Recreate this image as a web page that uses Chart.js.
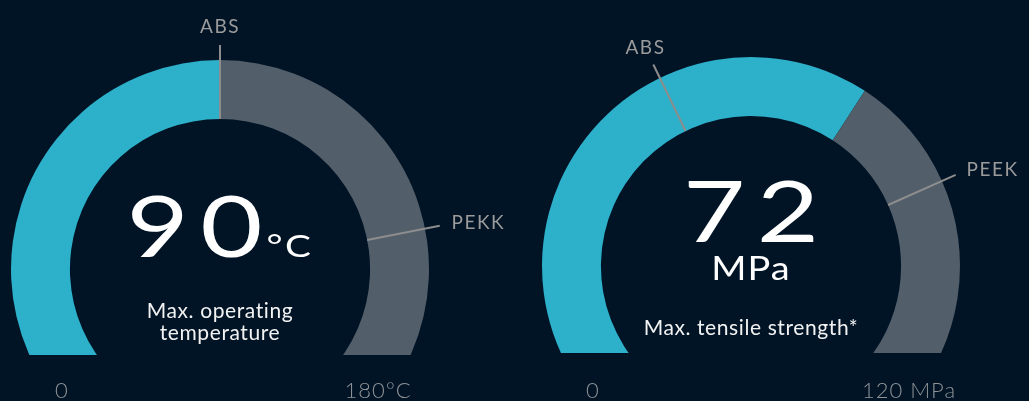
<!DOCTYPE html>
<html>
<head>
<meta charset="utf-8">
<script src="https://cdn.jsdelivr.net/npm/chart.js@4"></script>
<style>
  body { margin: 0; background: #011426; width: 1029px; height: 401px; overflow: hidden; }
  canvas { position: absolute; top: 0; }
  #gauge1 { left: 0; }
  #gauge2 { left: 515px; }
</style>
</head>
<body>
<canvas id="gauge1" width="515" height="401"></canvas>
<canvas id="gauge2" width="514" height="401"></canvas>
<script>
// gauge data
const gaugeValues = [90, 72];
const gaugeMax = [180, 120];
const gaugeUnits = ['°C', 'MPa'];
const gaugeCaptions = [['Max. operating', 'temperature'], ['Max. tensile strength*']];
const minLabels = ['0', '0'];
const maxLabels = ['180°C', '120 MPa'];
const markerNames = [['ABS', 'PEKK'], ['ABS', 'PEEK']];
const markerValues = [[90, 133], [50.6, 84]];

const cyan = '#2db0ca';
const slate = '#525e6a';

const gaugeText = {
    id: 'gaugeText',
    afterDraw(chart, args, opts) {
        const i = opts.index;
        const ctx = chart.ctx;
        const meta = chart.getDatasetMeta(0);
        const first = meta.data[0];
        const last = meta.data[meta.data.length - 1];
        const cx = first.x, cy = first.y;
        const rIn = first.innerRadius, rOut = first.outerRadius;
        const start = first.startAngle, end = last.endAngle;
        const angleFor = v => start + (v / gaugeMax[i]) * (end - start);

        ctx.save();
        // marker lines + names
        markerNames[i].forEach((name, k) => {
            const a = angleFor(markerValues[i][k]);
            const dx = Math.cos(a), dy = Math.sin(a);
            ctx.strokeStyle = '#8d8d8d';
            ctx.lineWidth = 2;
            ctx.beginPath();
            ctx.moveTo(cx + dx * rIn, cy + dy * rIn);
            ctx.lineTo(cx + dx * (rOut + 15), cy + dy * (rOut + 15));
            ctx.stroke();

            ctx.fillStyle = '#9b9b9b';
            ctx.font = '400 19px Lato';
            ctx.letterSpacing = '1.5px';
            ctx.textBaseline = 'middle';
            if (Math.abs(dx) > 0.7) {
                ctx.textAlign = dx > 0 ? 'left' : 'right';
                ctx.fillText(name, cx + dx * (rOut + 27), cy + dy * (rOut + 27));
            } else {
                ctx.textAlign = 'center';
                ctx.fillText(name, cx + dx * (rOut + 33), cy + dy * (rOut + 33));
            }
        });
        ctx.letterSpacing = '0px';

        // big value
        const sx = 1.25;
        ctx.fillStyle = '#ffffff';
        ctx.textBaseline = 'alphabetic';
        ctx.textAlign = 'left';
        ctx.font = '400 86px Lato';
        ctx.letterSpacing = '9px';
        const valText = String(gaugeValues[i]);
        const vw = ctx.measureText(valText).width - 9;
        if (opts.unitInline) {
            ctx.font = '400 31px Lato';
            ctx.letterSpacing = '2px';
            const uw = ctx.measureText(gaugeUnits[i]).width;
            const total = (vw + uw) * sx + 4;
            const left = cx - total / 2;
            ctx.save();
            ctx.translate(left, cy - 12);
            ctx.scale(sx, 1);
            ctx.font = '400 86px Lato';
            ctx.letterSpacing = '9px';
            ctx.fillText(valText, 0, 0);
            ctx.font = '400 31px Lato';
            ctx.letterSpacing = '2px';
            ctx.fillText(gaugeUnits[i], vw + 4 / sx, 0);
            ctx.restore();
        } else {
            ctx.save();
            ctx.translate(cx - vw * sx / 2, cy - 24);
            ctx.scale(sx, 1);
            ctx.fillText(valText, 0, 0);
            ctx.restore();
            ctx.font = '400 33px Lato';
            ctx.letterSpacing = '1px';
            ctx.textAlign = 'center';
            ctx.save();
            ctx.translate(cx, cy + 14);
            ctx.scale(1.15, 1);
            ctx.fillText(gaugeUnits[i], 0, 0);
            ctx.restore();
        }
        ctx.letterSpacing = '0.6px';

        // caption
        ctx.font = '400 21px Lato';
        ctx.fillStyle = '#f2f2f2';
        ctx.textAlign = 'center';
        gaugeCaptions[i].forEach((line, k) => {
            ctx.fillText(line, cx, cy + opts.captionY + k * 22);
        });

        // end labels
        ctx.font = '300 22px Lato';
        ctx.fillStyle = '#8f9397';
        ctx.letterSpacing = '1px';
        ctx.fillText(minLabels[i], cx - rOut * 0.756, 398);
        ctx.fillText(maxLabels[i], cx + rOut * 0.756, 398);
        ctx.restore();
    }
};

function makeGauge(id, i, padding, opts) {
    const ctx = document.getElementById(id).getContext('2d');
    return new Chart(ctx, {
        type: 'doughnut',
        data: {
            labels: ['value', 'rest'],
            datasets: [{
                data: [gaugeValues[i], gaugeMax[i] - gaugeValues[i]],
                backgroundColor: [cyan, slate],
                borderWidth: 0,
                clip: { left: false, top: false, right: false, bottom: 0 }
            }]
        },
        options: {
            responsive: false,
            animation: false,
            events: [],
            rotation: -165,
            circumference: 330,
            radius: 209,
            cutout: '71.8%',
            layout: { padding: padding },
            plugins: {
                legend: { display: false },
                tooltip: { enabled: false },
                gaugeText: Object.assign({ index: i }, opts)
            }
        },
        plugins: [gaugeText]
    });
}

makeGauge('gauge1', 0, { left: 0, right: 75, top: 176, bottom: 46 }, { unitInline: true, captionY: 49 });
makeGauge('gauge2', 1, { left: 0, right: 42, top: 172, bottom: 48 }, { unitInline: false, captionY: 69 });
</script>
</body>
</html>
